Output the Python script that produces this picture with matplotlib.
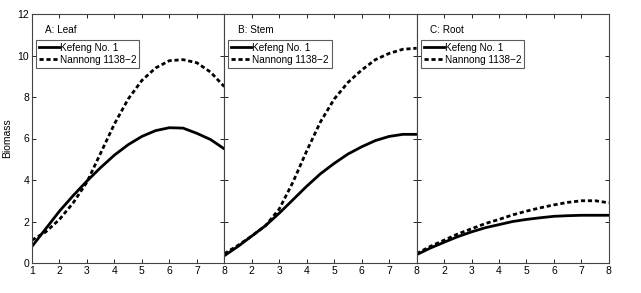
import matplotlib
matplotlib.use('Agg')
import matplotlib.pyplot as plt

plt.rcParams['font.family'] = ['Liberation Sans', 'DejaVu Sans']

# Sampled days (x axis)
x = [1, 1.5, 2, 2.5, 3, 3.5, 4, 4.5, 5, 5.5, 6, 6.5, 7, 7.5, 8]

# Leaf biomass
leaf_kefeng = [0.8, 1.65, 2.5, 3.25, 3.95, 4.6, 5.2, 5.7, 6.1, 6.38, 6.52, 6.5, 6.25, 5.95, 5.5]
leaf_nannong = [1.1, 1.5, 2.1, 2.9, 3.9, 5.3, 6.7, 7.9, 8.8, 9.4, 9.75, 9.8, 9.65, 9.2, 8.5]

# Stem biomass
stem_kefeng = [0.35, 0.8, 1.3, 1.8, 2.4, 3.05, 3.7, 4.3, 4.8, 5.25, 5.6, 5.9, 6.1, 6.2, 6.2]
stem_nannong = [0.45, 0.85, 1.3, 1.8, 2.6, 3.9, 5.4, 6.8, 7.9, 8.7, 9.3, 9.8, 10.1, 10.3, 10.35]

# Root biomass
root_kefeng = [0.4, 0.72, 1.0, 1.27, 1.5, 1.7, 1.85, 2.0, 2.1, 2.18, 2.25, 2.28, 2.3, 2.3, 2.3]
root_nannong = [0.45, 0.8, 1.1, 1.4, 1.65, 1.9, 2.1, 2.32, 2.5, 2.66, 2.8, 2.92, 3.0, 3.0, 2.9]

panels = [('A: Leaf', leaf_kefeng, leaf_nannong),
          ('B: Stem', stem_kefeng, stem_nannong),
          ('C: Root', root_kefeng, root_nannong)]

fig = plt.figure(figsize=(6.41, 2.93), dpi=100)

left = 32 / 641
width = 192.3 / 641
bottom = 30 / 293
height = 249 / 293

for i, (title, kef, nan) in enumerate(panels):
    ax = fig.add_axes([left + i * width, bottom, width, height])
    ax.plot(x, kef, color='black', lw=2, label='Kefeng No. 1')
    ax.plot(x, nan, color='black', lw=2, ls=(0, (1.5, 1.0)), label='Nannong 1138\u22122')
    ax.set_xlim(1, 8)
    ax.set_ylim(0, 12)
    ax.set_xticks(range(1, 9))
    ax.set_yticks(range(0, 13, 2))
    ax.tick_params(direction='in', top=True, right=True, length=3, width=0.6,
                   labelsize=7.5, pad=2)
    for s in ax.spines.values():
        s.set_linewidth(0.8)
        s.set_color('#444444')
    if i == 0:
        ax.set_ylabel('Biomass', fontsize=7.5, labelpad=4)
    else:
        ax.set_yticklabels([])
        ax.set_xticklabels([''] + [str(v) for v in range(2, 9)])
    ax.text(0.07, 0.955, title, transform=ax.transAxes, fontsize=7.2,
            va='top', ha='left')
    leg = ax.legend(loc='upper left', bbox_to_anchor=(0.01, 0.905), fontsize=7.2,
                    frameon=True, fancybox=False, handlelength=2.0,
                    handletextpad=0.1, borderpad=0.3, labelspacing=0.2,
                    borderaxespad=0.2)
    leg.get_frame().set_edgecolor('#333333')
    leg.get_frame().set_linewidth(0.8)

fig.savefig('out.png', dpi=100)
